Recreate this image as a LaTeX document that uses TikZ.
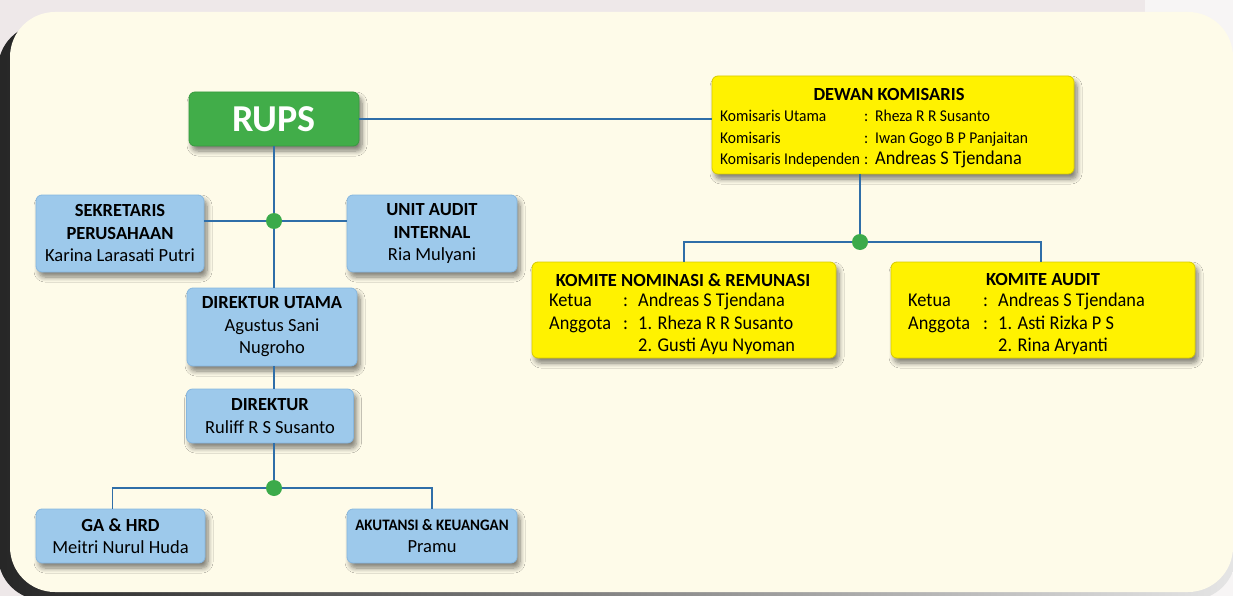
\documentclass[tikz,border=0pt]{standalone}
\usepackage{fontspec}
\setmainfont{Carlito}
\newfontfamily\condfont[FakeStretch=0.94]{Carlito}
\usetikzlibrary{shadows.blur}
\definecolor{outside}{HTML}{EEE8E9}
\definecolor{panelc}{HTML}{FEFBE9}
\definecolor{boxblue}{HTML}{9DC9EB}
\definecolor{boxblueb}{HTML}{86B7E0}
\definecolor{boxyel}{HTML}{FFF200}
\definecolor{boxyelb}{HTML}{D8CB00}
\definecolor{rupsg}{HTML}{41AD49}
\definecolor{rupsgb}{HTML}{389B40}
\definecolor{linec}{HTML}{2F6EA8}
\definecolor{dotg}{HTML}{3BAA4A}
\tikzset{
  boxshadow/.style={blur shadow={shadow xshift=3pt, shadow yshift=-5pt, shadow blur steps=7, shadow blur radius=5pt, shadow opacity=50}},
  bbox/.style={boxshadow, rounded corners=6pt, fill=boxblue, draw=boxblueb, line width=0.8pt, align=center, inner sep=0pt, font=\fontsize{18.5}{22.5}\selectfont},
  ybox/.style={boxshadow, rounded corners=6pt, fill=boxyel, draw=boxyelb, line width=0.8pt, inner sep=0pt},
  ytitle/.style={inner sep=0pt, font=\fontsize{18.5}{20}\selectfont\bfseries},
  yrow/.style={inner sep=0pt, anchor=mid west, font=\condfont\fontsize{16.5}{18}\selectfont},
  krow/.style={inner sep=0pt, anchor=mid west, font=\condfont\fontsize{19.5}{20}\selectfont},
  conn/.style={draw=linec, line width=1.4pt},
  jdot/.style={circle, fill=dotg, minimum size=16pt, inner sep=0pt}
}
\begin{document}
\begin{tikzpicture}[x=1pt,y=-1pt]
\useasboundingbox (0,0) rectangle (1233,596);
\clip (0,0) rectangle (1233,596);
\fill[outside] (0,0) rectangle (1233,596);
\fill[white!55!outside] (1145,0) rectangle (1233,596);
% panel shadow
\shade[left color=black!85, right color=black!10, rounded corners=45pt] (-2,24) rectangle (1236,600);
% panel
\fill[panelc, rounded corners=45pt] (10,12) rectangle (1233,592);

% junction points
\coordinate (j1) at (274,221);
\coordinate (j2) at (274,488);
\coordinate (j3) at (860,242);

% nodes
\node[boxshadow, rounded corners=6pt, fill=rupsg, draw=rupsgb, line width=0.8pt, minimum width=170pt, minimum height=54pt, inner sep=0pt, text=white, font=\fontsize{38}{40}\selectfont\bfseries] (rups) at (274,119) {RUPS};

\node[ybox, minimum width=362pt, minimum height=98pt] (dewan) at (893,125) {};
\node[ytitle] (dewant) at (889,94) {DEWAN KOMISARIS};
\node[yrow] (d1a) at (720,119) {Komisaris Utama};
\node[yrow] (d1b) at (864,119) {:};
\node[yrow] (d1c) at (875,119) {Rheza R R Susanto};
\node[yrow] (d2a) at (720,141) {Komisaris};
\node[yrow] (d2b) at (864,141) {:};
\node[yrow] (d2c) at (875,141) {Iwan Gogo B P Panjaitan};
\node[yrow] (d3a) at (720,162) {Komisaris Independen};
\node[yrow] (d3b) at (864,162) {:};
\node[krow] (d3c) at (875,162) {Andreas S Tjendana};

\node[bbox, minimum width=168pt, minimum height=77pt] (sek) at (120,233.5) {\textbf{SEKRETARIS}\\\textbf{PERUSAHAAN}\\Karina Larasati Putri};
\node[bbox, minimum width=170pt, minimum height=77pt] (uai) at (432,233.5) {\textbf{UNIT AUDIT}\\\textbf{INTERNAL}\\Ria Mulyani};
\node[bbox, minimum width=170pt, minimum height=78pt] (du) at (272,327) {\textbf{DIREKTUR UTAMA}\\Agustus Sani\\Nugroho};
\node[bbox, minimum width=167pt, minimum height=54pt] (dir) at (270,416) {\textbf{DIREKTUR}\\Ruliff R S Susanto};
\node[bbox, minimum width=169pt, minimum height=54pt] (ga) at (120.5,536) {\textbf{GA \& HRD}\\Meitri Nurul Huda};
\node[bbox, minimum width=170pt, minimum height=54pt] (ak) at (432,536) {{\condfont\fontsize{16}{22.5}\selectfont\bfseries AKUTANSI \& KEUANGAN}\\Pramu};

\node[ybox, minimum width=304pt, minimum height=96pt] (kn) at (684,310) {};
\node[ytitle] (knt) at (683,280) {KOMITE NOMINASI \& REMUNASI};
\node[krow] (kn1a) at (549,304) {Ketua};
\node[krow] (kn1b) at (623,304) {:};
\node[krow] (kn1c) at (638,304) {Andreas S Tjendana};
\node[krow] (kn2a) at (549,327) {Anggota};
\node[krow] (kn2b) at (623,327) {:};
\node[krow] (kn2c) at (638,327) {1. Rheza R R Susanto};
\node[krow] (kn3c) at (638,349) {2. Gusti Ayu Nyoman};

\node[ybox, minimum width=304pt, minimum height=96pt] (ka) at (1043,310) {};
\node[ytitle] (kat) at (1043,280) {KOMITE AUDIT};
\node[krow] (ka1a) at (908,304) {Ketua};
\node[krow] (ka1b) at (983,304) {:};
\node[krow] (ka1c) at (998,304) {Andreas S Tjendana};
\node[krow] (ka2a) at (908,327) {Anggota};
\node[krow] (ka2b) at (983,327) {:};
\node[krow] (ka2c) at (998,327) {1. Asti Rizka P S};
\node[krow] (ka3c) at (998,349) {2. Rina Aryanti};

% connectors
\draw[conn] (rups.east) -- (rups.east -| dewan.west);
\draw[conn] (rups.south -| j1) -- (du.north -| j1);
\draw[conn] (sek.east |- j1) -- (uai.west |- j1);
\draw[conn] (du.south -| j1) -- (dir.north -| j1);
\draw[conn] (dir.south -| j2) -- (j2);
\draw[conn] ([xshift=-8pt]ga.north) |- (j2) -| (ak.north);
\draw[conn] (dewan.south -| j3) -- (j3);
\draw[conn] (kn.north) |- (j3) -| ([xshift=-2pt]ka.north);
\node[jdot] (dot1) at (j1) {};
\node[jdot] (dot2) at (j2) {};
\node[jdot] (dot3) at (j3) {};
\end{tikzpicture}
\end{document}
